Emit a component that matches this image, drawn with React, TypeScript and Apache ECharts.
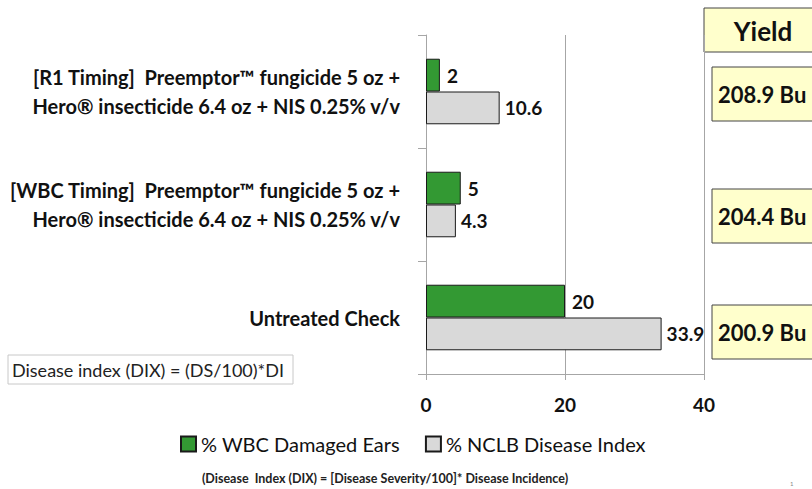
import React, { useEffect, useRef } from "react";
import * as echarts from "echarts";

const categories = [
  "[R1 Timing]  Preemptor™ fungicide 5 oz +\nHero® insecticide 6.4 oz + NIS 0.25% v/v",
  "[WBC Timing]  Preemptor™ fungicide 5 oz +\nHero® insecticide 6.4 oz + NIS 0.25% v/v",
  "Untreated Check",
];
const wbcDamaged = [2, 5, 20];
const nclbIndex = [10.6, 4.3, 33.9];
const yields = ["208.9 Bu", "204.4 Bu", "200.9 Bu"];
const seriesNames = ["% WBC Damaged Ears", "% NCLB Disease Index"];
const xTicks = { min: 0, max: 40, interval: 20 };

const FONT = "Lato, 'Open Sans', sans-serif";

export default function App() {
  const ref = useRef<HTMLDivElement>(null);
  useEffect(() => {
    if (!ref.current) return;
    const chart = echarts.init(ref.current, undefined, { renderer: "svg" });
    const yieldTops = [67, 189, 305];
    const graphics: any[] = [
      {
        type: "rect",
        shape: { x: 704, y: 8, width: 120, height: 44 },
        style: { fill: "#FFFFCC", stroke: "#444", lineWidth: 1 },
      },
      {
        type: "text",
        x: 763,
        y: 31,
        style: {
          text: "Yield",
          fontSize: 26,
          fontWeight: "bold",
          fontFamily: FONT,
          fill: "#111",
          align: "center",
          verticalAlign: "middle",
        },
      },
      {
        type: "rect",
        shape: { x: 8, y: 355, width: 285, height: 29 },
        style: { fill: "#fff", stroke: "#C8C8C8", lineWidth: 1 },
      },
      {
        type: "text",
        x: 12,
        y: 370,
        style: {
          text: "Disease index (DIX) = (DS/100)*DI",
          fontSize: 18,
          fontFamily: FONT,
          fill: "#222",
          verticalAlign: "middle",
        },
      },
      {
        type: "text",
        x: 385,
        y: 478,
        style: {
          text: "(Disease  Index (DIX) = [Disease Severity/100]* Disease Incidence)",
          fontSize: 12.5,
          fontWeight: "bold",
          fontFamily: FONT,
          fill: "#222",
          align: "center",
          verticalAlign: "middle",
        },
      },
      {
        type: "text",
        x: 790,
        y: 483,
        style: { text: "1", fontSize: 6, fill: "#888", fontFamily: FONT, verticalAlign: "middle" },
      },
    ];
    yields.forEach((y, i) => {
      graphics.push({
        type: "rect",
        shape: { x: 712, y: yieldTops[i], width: 120, height: 54 },
        style: { fill: "#FFFFCC", stroke: "#444", lineWidth: 1 },
      });
      graphics.push({
        type: "text",
        x: 718,
        y: yieldTops[i] + 27,
        style: {
          text: y,
          fontSize: 22,
          fontWeight: "bold",
          fontFamily: FONT,
          fill: "#111",
          verticalAlign: "middle",
        },
      });
    });

    chart.setOption({
      animation: false,
      backgroundColor: "#fff",
      grid: { left: 426, top: 35, width: 278, height: 339, containLabel: false },
      legend: {
        left: 175,
        top: 429,
        itemWidth: 15,
        itemHeight: 15,
        itemGap: 25,
        icon: "rect",
        textStyle: { fontSize: 20, fontFamily: FONT, color: "#111" },
        data: seriesNames,
      },
      xAxis: {
        type: "value",
        min: xTicks.min,
        max: xTicks.max,
        interval: xTicks.interval,
        axisLine: { show: true, lineStyle: { color: "#A6A6A6" } },
        axisTick: { show: true, length: 6, lineStyle: { color: "#A6A6A6" } },
        splitLine: { show: true, lineStyle: { color: "#A6A6A6" } },
        axisLabel: {
          fontSize: 19,
          fontWeight: "bold",
          fontFamily: FONT,
          color: "#111",
          margin: 21,
        },
      },
      yAxis: {
        type: "category",
        inverse: true,
        data: categories,
        axisLine: { show: true, lineStyle: { color: "#A6A6A6" } },
        axisTick: { show: true, length: 8, lineStyle: { color: "#A6A6A6" } },
        axisLabel: {
          fontSize: 20,
          fontWeight: "bold",
          fontFamily: FONT,
          color: "#111",
          margin: 26,
          lineHeight: 29,
          align: "right",
        },
      },
      series: [
        {
          name: seriesNames[0],
          type: "bar",
          data: wbcDamaged,
          barGap: "0%",
          barCategoryGap: "42%",
          itemStyle: { color: "#339933", borderColor: "#1a1a1a", borderWidth: 1 },
          label: {
            show: true,
            position: "right",
            distance: 7,
            fontSize: 19,
            fontWeight: "bold",
            fontFamily: FONT,
            color: "#111",
          },
        },
        {
          name: seriesNames[1],
          type: "bar",
          data: nclbIndex,
          barGap: "0%",
          barCategoryGap: "42%",
          itemStyle: { color: "#D9D9D9", borderColor: "#1a1a1a", borderWidth: 1 },
          label: {
            show: true,
            position: "right",
            distance: 5,
            fontSize: 19,
            fontWeight: "bold",
            fontFamily: FONT,
            color: "#111",
          },
        },
      ],
      graphic: graphics,
    });
    return () => chart.dispose();
  }, []);
  return (
    <div
      ref={ref}
      style={{ position: "fixed", left: 0, top: 0, width: 812, height: 489 }}
    />
  );
}
